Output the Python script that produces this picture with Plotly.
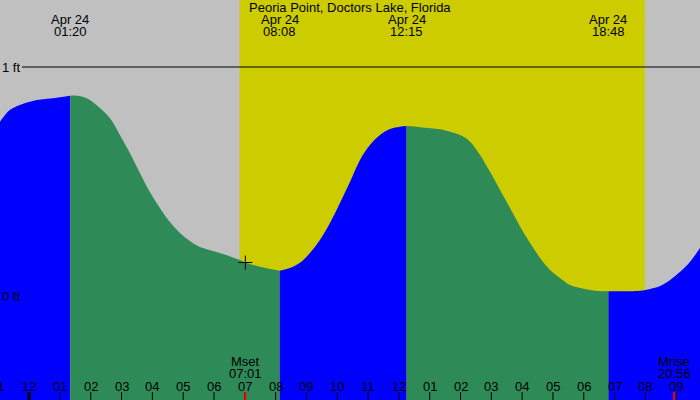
import numpy as np
import plotly.graph_objects as go

# ---------------- data ----------------
title_text = "Peoria Point, Doctors Lake, Florida"
date_label = "Apr 24"

# tide curve: hours from midnight Apr 24 (negative = Apr 23), height in ft
tide_hours = [-0.951, -0.627, -0.302, 0.120, 0.672, 1.333, 1.646, 1.971, 2.295, 2.620,
              2.945, 3.270, 3.594, 3.919, 4.244, 4.568, 4.893, 5.218, 5.542, 6.192,
              6.841, 7.036, 7.490, 8.133, 8.464, 8.789, 9.114, 9.438, 9.763, 10.088,
              10.412, 10.737, 11.062, 11.386, 11.711, 12.036, 12.250, 12.685, 13.334, 13.659,
              13.984, 14.308, 14.633, 14.958, 15.282, 15.607, 15.932, 16.256, 16.581, 16.906,
              17.230, 17.555, 17.880, 18.367, 18.800, 19.180, 19.830, 20.153, 20.477, 20.802,
              21.127, 21.451, 21.776]
tide_heights = [0.760, 0.812, 0.834, 0.852, 0.862, 0.875, 0.873, 0.856, 0.821, 0.777,
                0.703, 0.624, 0.537, 0.454, 0.384, 0.323, 0.275, 0.240, 0.214, 0.188,
                0.157, 0.145, 0.128, 0.110, 0.122, 0.145, 0.188, 0.245, 0.319, 0.406,
                0.498, 0.594, 0.659, 0.703, 0.729, 0.739, 0.742, 0.737, 0.728, 0.717,
                0.703, 0.674, 0.616, 0.543, 0.463, 0.384, 0.303, 0.231, 0.166, 0.114,
                0.079, 0.048, 0.035, 0.023, 0.021, 0.021, 0.023, 0.031, 0.044, 0.070,
                0.106, 0.150, 0.210]

event_times = ["01:20", "08:08", "12:15", "18:48"]

sunrise = "06:50"
sunset = "19:59"
moon_labels = ["Mset", "Mrise"]
moon_times = ["07:01", "20:56"]
marker_time = "07:01"

tick_hours = list(range(-1, 22))
tick_labels = ["11", "12", "01", "02", "03", "04", "05", "06", "07", "08", "09", "10",
               "11", "12", "01", "02", "03", "04", "05", "06", "07", "08", "09"]

level_values = [0, 1]
level_labels = ["0 ft", "1 ft"]

x_range = [-0.945, 21.772]
y_range = [-0.4541, 1.2926]

BLUE = "#0000FF"
GREEN = "#2E8B57"
GRAY = "#C0C0C0"
YELLOW = "#CCCC00"
FONT = "Liberation Sans, Arial, sans-serif"


def to_h(s):
    h, m = s.split(":")
    return int(h) + int(m) / 60.0


def x_paper(h):
    return (h - x_range[0]) / (x_range[1] - x_range[0])


hrs = np.array(tide_hours)
hts = np.array(tide_heights)

fig = go.Figure()

# tide segments split at high / low times
bounds = [hrs[0]] + [to_h(t) for t in event_times] + [hrs[-1]]
for a, b in zip(bounds[:-1], bounds[1:]):
    m = (hrs >= a - 0.01) & (hrs <= b + 0.01)
    xs = list(hrs[m])
    ys = list(hts[m])
    color = BLUE if ys[-1] > ys[0] else GREEN
    fig.add_trace(go.Scatter(
        x=[xs[0], xs[-1]], y=[-1, -1], mode="lines",
        line=dict(width=0, color=color), hoverinfo="skip", showlegend=False))
    fig.add_trace(go.Scatter(
        x=xs, y=ys, mode="lines", fill="tonexty", fillcolor=color,
        line=dict(width=0, color=color, shape="spline", smoothing=1.0),
        hoverinfo="skip", showlegend=False))

# marker on the curve
mt = to_h(marker_time)
fig.add_trace(go.Scatter(
    x=[mt], y=[float(np.interp(mt, hrs, hts))], mode="markers",
    marker=dict(symbol="cross-thin", size=10, line=dict(width=1, color="black")),
    hoverinfo="skip", showlegend=False))

shapes = []
# daylight
shapes.append(dict(type="rect", xref="x", yref="paper", x0=to_h(sunrise), x1=to_h(sunset),
                   y0=0, y1=1, fillcolor=YELLOW, line=dict(width=0), layer="below"))
# 1 ft line
shapes.append(dict(type="line", xref="paper", yref="y", x0=22 / 700, x1=1,
                   y0=level_values[1], y1=level_values[1],
                   line=dict(color="black", width=1), layer="below"))
# hour ticks
for h in tick_hours:
    w = 3 if h == 0 else 1
    shapes.append(dict(type="line", xref="x", yref="paper", x0=h, x1=h, y0=0, y1=0.02,
                       line=dict(color="black", width=w), layer="above"))
# moon ticks
for t in moon_times:
    shapes.append(dict(type="line", xref="x", yref="paper", x0=to_h(t), x1=to_h(t),
                       y0=0, y1=0.02, line=dict(color="red", width=2), layer="above"))

ann = []
fnt = dict(family=FONT, size=13, color="black")


def py(ypix):
    return 1 - ypix / 400.0


ann.append(dict(text=title_text, xref="paper", yref="paper", x=0.5, y=py(7.5),
                xanchor="center", yanchor="middle", showarrow=False, font=fnt))
for t in event_times:
    ann.append(dict(text=date_label, xref="x", yref="paper", x=to_h(t), y=py(19.5),
                    xanchor="center", yanchor="middle", showarrow=False, font=fnt))
    ann.append(dict(text=t, xref="x", yref="paper", x=to_h(t), y=py(31.5),
                    xanchor="center", yanchor="middle", showarrow=False, font=fnt))
for lab, t in zip(moon_labels, moon_times):
    ann.append(dict(text=lab, xref="x", yref="paper", x=to_h(t), y=py(361.5),
                    xanchor="center", yanchor="middle", showarrow=False, font=fnt))
    ann.append(dict(text=t, xref="x", yref="paper", x=to_h(t), y=py(373.5),
                    xanchor="center", yanchor="middle", showarrow=False, font=fnt))
for h, lab in zip(tick_hours, tick_labels):
    ann.append(dict(text=lab, xref="paper", yref="paper", x=x_paper(h), y=py(386),
                    xanchor="center", yanchor="middle", showarrow=False, font=fnt))
for v, lab in zip(level_values, level_labels):
    ann.append(dict(text=lab, xref="paper", yref="y", x=0, y=v,
                    xanchor="left", yanchor="middle", showarrow=False, font=fnt))

fig.update_layout(
    width=700, height=400, margin=dict(l=0, r=0, t=0, b=0),
    paper_bgcolor=GRAY, plot_bgcolor=GRAY,
    xaxis=dict(range=x_range, showgrid=False, zeroline=False, showticklabels=False,
               ticks="", showline=False, fixedrange=True),
    yaxis=dict(range=y_range, showgrid=False, zeroline=False, showticklabels=False,
               ticks="", showline=False, fixedrange=True),
    shapes=shapes, annotations=ann, showlegend=False,
)

fig.write_html("out.html")
